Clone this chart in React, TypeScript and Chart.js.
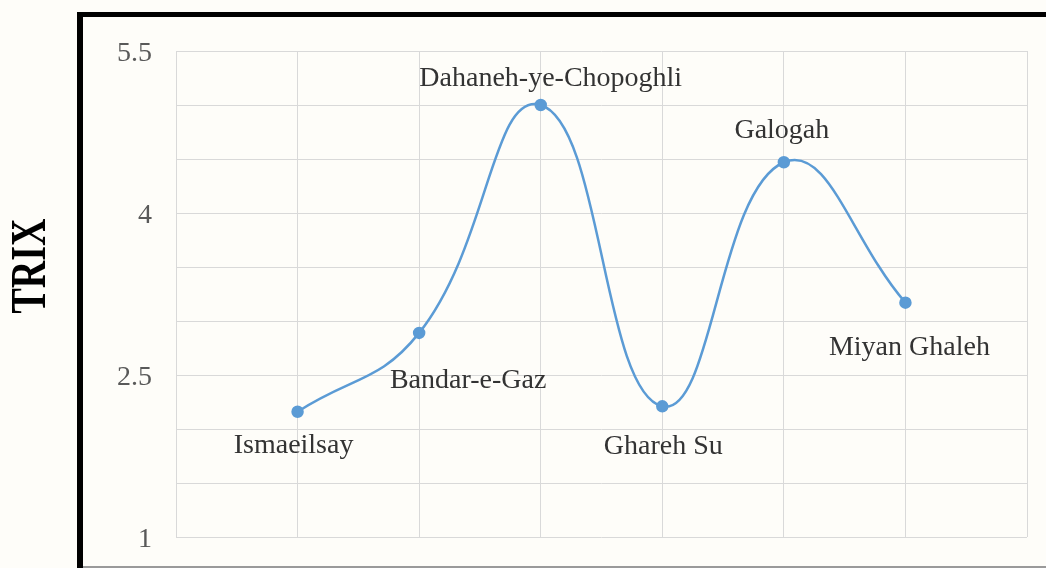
import React, { useEffect, useRef } from "react";
import { Chart, registerables } from "chart.js";

Chart.register(...registerables);

// ---- data ----
const categories = ["Ismaeilsay", "Bandar-e-Gaz", "Dahaneh-ye-Chopoghli", "Ghareh Su", "Galogah", "Miyan Ghaleh"];
const trixValues = [2.16, 2.89, 5.0, 2.21, 4.47, 3.17];
const yTickLabels = [1, 2.5, 4, 5.5];
const yAxisTitle = "TRIX";

// label placement offsets (px) relative to each point
const labelOffsets: [number, number][] = [
  [-4, 34],
  [49, 48],
  [10, -26],
  [1, 40],
  [-2, -32],
  [4, 45],
];

const W = 1046;
const H = 568;
const PLOT = { left: 176, right: 1027, top: 51, bottom: 537 };
const FONT = "'Liberation Serif', 'Times New Roman', serif";
const BG = "#fefdf9";
const LINE = "#5b9bd5";

const framePlugin = {
  id: "frame",
  beforeDraw(chart: any) {
    const ctx = chart.ctx;
    ctx.save();
    ctx.fillStyle = BG;
    ctx.fillRect(0, 0, chart.width, chart.height);
    ctx.restore();
  },
  afterDraw(chart: any) {
    const ctx = chart.ctx;
    ctx.save();
    // outer frame
    ctx.fillStyle = "#000";
    ctx.fillRect(77, 12, 6, H - 12);
    ctx.fillRect(77, 12, W - 77, 5);
    ctx.fillStyle = "#9a9a9a";
    ctx.fillRect(83, 566, W - 83, 2);
    // axis title, stretched
    ctx.translate(30, 266);
    ctx.rotate(-Math.PI / 2);
    ctx.scale(1, 1.35);
    ctx.font = `bold 38px ${FONT}`;
    ctx.fillStyle = "#000";
    ctx.textAlign = "center";
    ctx.textBaseline = "middle";
    ctx.fillText(yAxisTitle, 0, 1);
    ctx.restore();
  },
};

const labelPlugin = {
  id: "pointLabels",
  afterDatasetsDraw(chart: any) {
    const ctx = chart.ctx;
    const meta = chart.getDatasetMeta(0);
    ctx.save();
    ctx.font = `28px ${FONT}`;
    ctx.fillStyle = "#333333";
    ctx.textAlign = "center";
    ctx.textBaseline = "middle";
    meta.data.forEach((pt: any, i: number) => {
      const [dx, dy] = labelOffsets[i];
      ctx.fillText(categories[i], pt.x + dx, pt.y + dy);
    });
    ctx.restore();
  },
};

export default function App() {
  const ref = useRef<HTMLCanvasElement | null>(null);
  useEffect(() => {
    if (!ref.current) return;
    const chart = new Chart(ref.current, {
      type: "line",
      data: {
        datasets: [
          {
            label: yAxisTitle,
            data: trixValues.map((v, i) => ({ x: i + 1, y: v })),
            borderColor: LINE,
            backgroundColor: LINE,
            borderWidth: 2.5,
            pointRadius: 5,
            pointBackgroundColor: LINE,
            pointBorderColor: LINE,
            tension: 0.45,
            fill: false,
          },
        ],
      },
      options: {
        responsive: false,
        animation: false,
        events: [],
        layout: { padding: { top: PLOT.top, right: W - PLOT.right, left: 0, bottom: 0 } },
        plugins: { legend: { display: false }, tooltip: { enabled: false } },
        scales: {
          x: {
            type: "linear",
            min: 0,
            max: categories.length + 1,
            ticks: { display: false, stepSize: 1 },
            grid: { color: "#d9d9d9", lineWidth: 1, drawTicks: false },
            border: { display: false },
            afterFit(s: any) {
              s.height = H - PLOT.bottom;
              s.paddingBottom = 0;
              s.paddingTop = 0;
            },
          },
          y: {
            min: 1,
            max: 5.5,
            ticks: {
              stepSize: 0.5,
              padding: 24,
              labelOffset: 3,
              color: "#595959",
              font: { family: FONT, size: 28 },
              callback: (v: any) => (yTickLabels.includes(Number(v)) ? String(v) : ""),
            },
            grid: { color: "#d9d9d9", lineWidth: 1, drawTicks: false },
            border: { display: false },
            afterFit(s: any) {
              s.width = PLOT.left;
              s.paddingTop = 0;
              s.paddingBottom = 0;
            },
          },
        },
      },
      plugins: [framePlugin, labelPlugin],
    });
    return () => chart.destroy();
  }, []);
  return (
    <div style={{ position: "fixed", left: 0, top: 0, width: W, height: H, background: BG }}>
      <canvas ref={ref} width={W} height={H} style={{ width: W, height: H, display: "block" }} />
    </div>
  );
}
